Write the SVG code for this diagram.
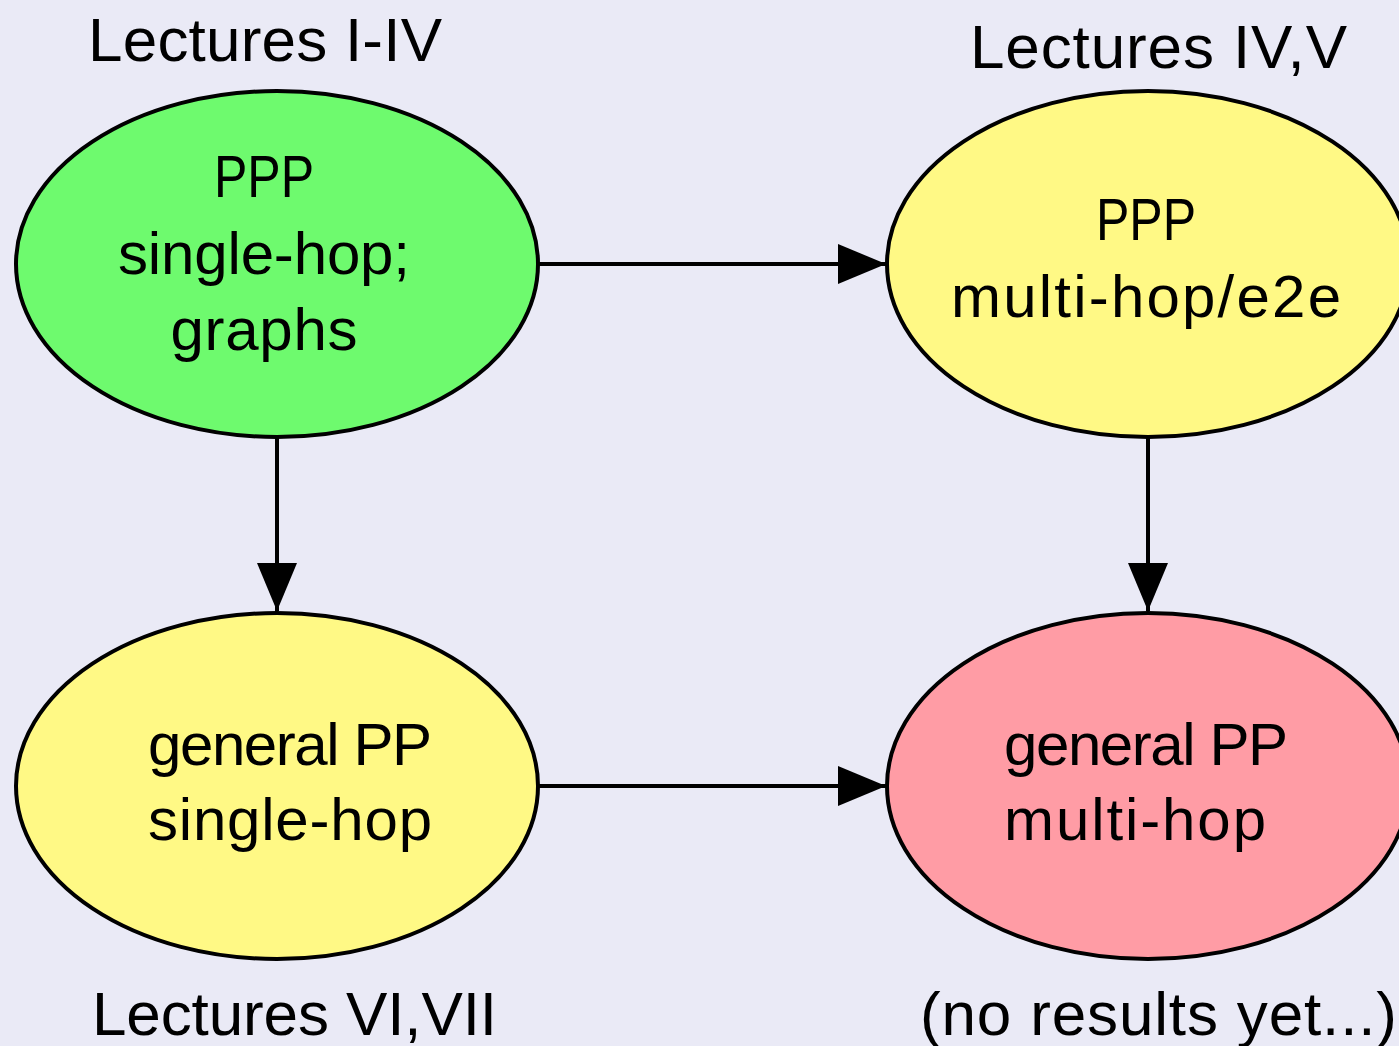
<svg xmlns="http://www.w3.org/2000/svg" width="1399" height="1046" viewBox="0 0 1399 1046">
  <style>
    .bg { fill: #EAEAF6; }
    .node { stroke: #000; stroke-width: 4; }
    .green { fill: #6EFA6E; }
    .yellow { fill: #FFF985; }
    .pink { fill: #FF9CA5; }
    .edge { stroke: #000; stroke-width: 4; fill: none; }
    text { font-family: "Liberation Sans", Arial, sans-serif; fill: #000; }
    .lbl { font-size: 60px; }
    .cap { font-size: 62px; }
  </style>
  <defs>
    <marker id="arrow" markerUnits="userSpaceOnUse" markerWidth="48" markerHeight="40" refX="48" refY="20" orient="auto">
      <path d="M0,0 L48,20 L0,40 Z" fill="#000"/>
    </marker>
  </defs>
  <rect class="bg" x="0" y="0" width="1399" height="1046"/>

  <g id="connectors">
    <line class="edge" x1="539" y1="264" x2="886" y2="264" marker-end="url(#arrow)"/>
    <line class="edge" x1="277" y1="438" x2="277" y2="611" marker-end="url(#arrow)"/>
    <line class="edge" x1="1148" y1="438" x2="1148" y2="611" marker-end="url(#arrow)"/>
    <line class="edge" x1="539" y1="786" x2="886" y2="786" marker-end="url(#arrow)"/>
  </g>

  <g id="node-ppp-single">
    <ellipse class="node green" cx="277" cy="264" rx="261" ry="173"/>
    <text class="lbl" x="264" y="197" text-anchor="middle" textLength="100" lengthAdjust="spacingAndGlyphs">PPP</text>
    <text class="lbl" x="264" y="274" text-anchor="middle" textLength="292">single-hop;</text>
    <text class="lbl" x="264" y="350" text-anchor="middle" textLength="187">graphs</text>
  </g>

  <g id="node-ppp-multi">
    <ellipse class="node yellow" cx="1148" cy="264" rx="261" ry="173"/>
    <text class="lbl" x="1146" y="240" text-anchor="middle" textLength="100" lengthAdjust="spacingAndGlyphs">PPP</text>
    <text class="lbl" x="1146" y="317" text-anchor="middle" textLength="390">multi-hop/e2e</text>
  </g>

  <g id="node-pp-single">
    <ellipse class="node yellow" cx="277" cy="786" rx="261" ry="173"/>
    <text class="lbl" x="148" y="765" textLength="284">general PP</text>
    <text class="lbl" x="148" y="840" textLength="284">single-hop</text>
  </g>

  <g id="node-pp-multi">
    <ellipse class="node pink" cx="1148" cy="786" rx="261" ry="173"/>
    <text class="lbl" x="1004" y="765" textLength="284">general PP</text>
    <text class="lbl" x="1004" y="840" textLength="262">multi-hop</text>
  </g>

  <g id="captions">
    <text class="cap" x="88" y="61" textLength="354">Lectures I-IV</text>
    <text class="cap" x="970" y="68" textLength="377">Lectures IV,V</text>
    <text class="cap" x="92" y="1035" textLength="405">Lectures VI,VII</text>
    <text class="cap" x="920" y="1035" textLength="477">(no results yet...)</text>
  </g>
</svg>
